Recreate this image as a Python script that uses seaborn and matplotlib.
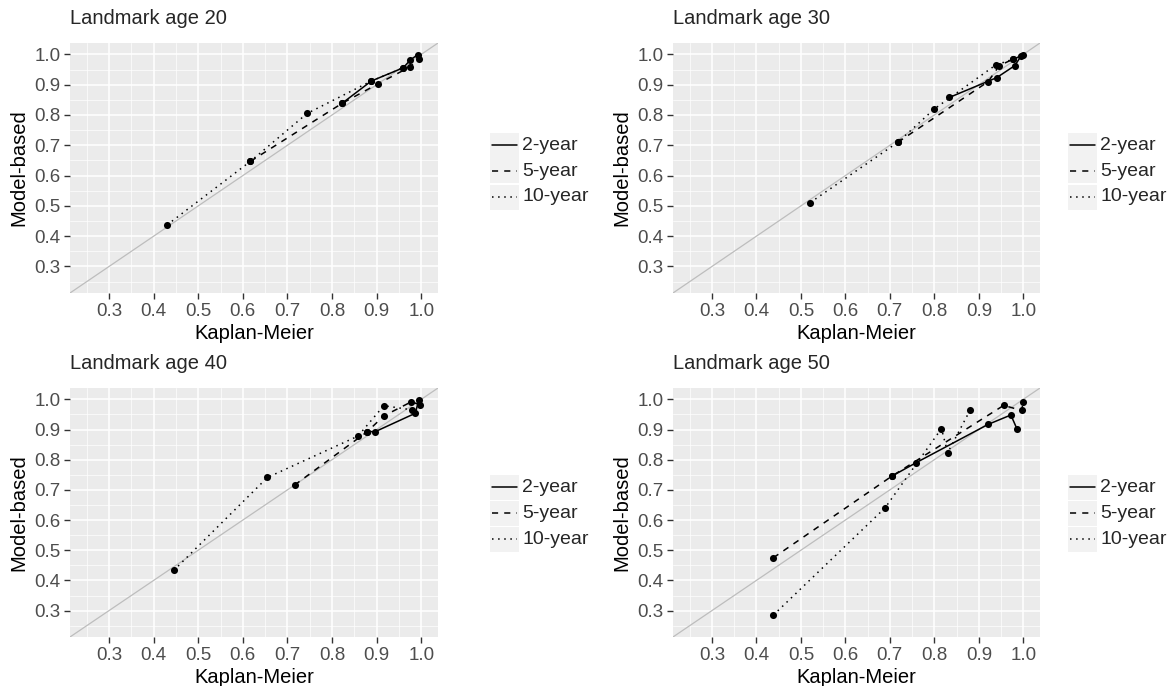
import matplotlib
matplotlib.use("Agg")
import matplotlib.pyplot as plt
from matplotlib.lines import Line2D
from matplotlib.patches import Rectangle
from matplotlib.ticker import MultipleLocator
import pandas as pd
import seaborn as sns

# Calibration values (Kaplan-Meier vs model-based survival)
horizons = ["2-year", "5-year", "10-year"]
ages = [20, 30, 40, 50]

# Landmark age 20
km_20_2y = [0.822, 0.888, 0.960, 0.975, 0.992]
mb_20_2y = [0.838, 0.912, 0.956, 0.981, 0.999]
km_20_5y = [0.617, 0.822, 0.902, 0.975, 0.995]
mb_20_5y = [0.647, 0.838, 0.902, 0.959, 0.985]
km_20_10y = [0.430, 0.617, 0.744, 0.888, 0.960]
mb_20_10y = [0.437, 0.647, 0.805, 0.912, 0.956]

# Landmark age 30
km_30_2y = [0.834, 0.940, 0.981, 0.995]
mb_30_2y = [0.858, 0.923, 0.963, 0.995]
km_30_5y = [0.718, 0.921, 0.946, 0.977, 1.000]
mb_30_5y = [0.710, 0.910, 0.963, 0.984, 0.998]
km_30_10y = [0.521, 0.718, 0.800, 0.938, 0.977]
mb_30_10y = [0.511, 0.710, 0.820, 0.965, 0.984]

# Landmark age 40
km_40_2y = [0.879, 0.897, 0.987, 0.994]
mb_40_2y = [0.893, 0.893, 0.954, 0.998]
km_40_5y = [0.716, 0.879, 0.916, 0.978, 0.998]
mb_40_5y = [0.716, 0.893, 0.945, 0.992, 0.981]
km_40_10y = [0.445, 0.655, 0.858, 0.916, 0.979]
mb_40_10y = [0.433, 0.741, 0.878, 0.979, 0.965]

# Landmark age 50
km_50_2y = [0.704, 0.759, 0.921, 0.972, 0.986]
mb_50_2y = [0.745, 0.790, 0.917, 0.948, 0.901]
km_50_5y = [0.438, 0.704, 0.956, 0.996, 1.000]
mb_50_5y = [0.475, 0.745, 0.980, 0.963, 0.990]
km_50_10y = [0.438, 0.689, 0.816, 0.830, 0.880]
mb_50_10y = [0.285, 0.640, 0.903, 0.823, 0.963]

tick_values = [0.3, 0.4, 0.5, 0.6, 0.7, 0.8, 0.9, 1.0]

series = {
    20: [(km_20_2y, mb_20_2y), (km_20_5y, mb_20_5y), (km_20_10y, mb_20_10y)],
    30: [(km_30_2y, mb_30_2y), (km_30_5y, mb_30_5y), (km_30_10y, mb_30_10y)],
    40: [(km_40_2y, mb_40_2y), (km_40_5y, mb_40_5y), (km_40_10y, mb_40_10y)],
    50: [(km_50_2y, mb_50_2y), (km_50_5y, mb_50_5y), (km_50_10y, mb_50_10y)],
}

rows = []
for age in ages:
    for horizon, (km, mb) in zip(horizons, series[age]):
        for x, y in zip(km, mb):
            rows.append({"age": age, "horizon": horizon, "km": x, "model": y})
df = pd.DataFrame(rows)

sns.set_theme(style="darkgrid")
plt.rcParams["font.family"] = ["Liberation Sans", "DejaVu Sans"]

W, H = 1172, 686
fig = plt.figure(figsize=(W / 100, H / 100), dpi=100)
fig.patch.set_facecolor("white")


def px_rect(left, top, right, bottom):
    return [left / W, 1 - bottom / H, (right - left) / W, (bottom - top) / H]


panel_px = {
    20: (70, 43, 438, 293),
    30: (673, 43, 1040, 293),
    40: (70, 388, 438, 637),
    50: (673, 388, 1040, 637),
}
legend_px = {
    20: (490, [145, 171, 197]),
    30: (1068, [145, 171, 197]),
    40: (490, [487, 513, 539]),
    50: (1068, [487, 513, 539]),
}
dash_map = {"2-year": "", "5-year": (4, 4), "10-year": (1, 3)}
ls_map = {"2-year": "-", "5-year": (0, (4, 4)), "10-year": (0, (1, 3))}

for age in ages:
    ax = fig.add_axes(px_rect(*panel_px[age]))
    ax.set_facecolor("#EBEBEB")
    sub = df[df["age"] == age]

    ax.axline((0.5, 0.5), slope=1, color="#BDBDBD", lw=0.9, zorder=1)
    sns.lineplot(
        data=sub, x="km", y="model", style="horizon", style_order=horizons,
        dashes=dash_map, color="black", lw=1.1, estimator=None, sort=True,
        legend=False, ax=ax, zorder=2,
    )
    sns.scatterplot(
        data=sub, x="km", y="model", color="black", s=26, linewidth=0,
        legend=False, ax=ax, zorder=3,
    )

    ax.set_xlim(0.2125, 1.0375)
    ax.set_ylim(0.2125, 1.0375)
    ax.set_xticks(tick_values)
    ax.set_yticks(tick_values)
    ax.set_xticklabels([f"{v:.1f}" for v in tick_values])
    ax.set_yticklabels([f"{v:.1f}" for v in tick_values])
    ax.xaxis.set_minor_locator(MultipleLocator(0.1, offset=0.05))
    ax.yaxis.set_minor_locator(MultipleLocator(0.1, offset=0.05))
    ax.grid(which="major", color="white", lw=1.1)
    ax.grid(which="minor", color="white", lw=0.5)
    ax.set_axisbelow(True)
    for s in ax.spines.values():
        s.set_visible(False)
    ax.tick_params(axis="both", which="major", length=4, width=1, color="#333333",
                   labelsize=13.5, labelcolor="#4D4D4D", pad=3,
                   bottom=True, left=True)
    ax.tick_params(axis="both", which="minor", length=0)
    ax.set_xlabel("Kaplan-Meier", fontsize=14.5, color="black", labelpad=3)
    ax.set_ylabel("Model-based", fontsize=14.5, color="black", labelpad=4)
    ax.set_title(f"Landmark age {age}", loc="left", fontsize=14.5, pad=14)

    # ggplot-style legend with grey key boxes
    kx, ys = legend_px[age]
    for horizon, yc in zip(horizons, ys):
        fig.patches.append(Rectangle(
            (kx / W, 1 - (yc + 12.5) / H), 29 / W, 25 / H,
            transform=fig.transFigure, facecolor="#F2F2F2", edgecolor="none",
        ))
        fig.lines.append(Line2D(
            [(kx + 2) / W, (kx + 27) / W], [1 - yc / H, 1 - yc / H],
            transform=fig.transFigure, color="black", lw=1.1,
            linestyle=ls_map[horizon],
        ))
        fig.text((kx + 32) / W, 1 - yc / H, horizon, fontsize=14,
                 va="center", ha="left")

fig.savefig("out.png", dpi=100)
